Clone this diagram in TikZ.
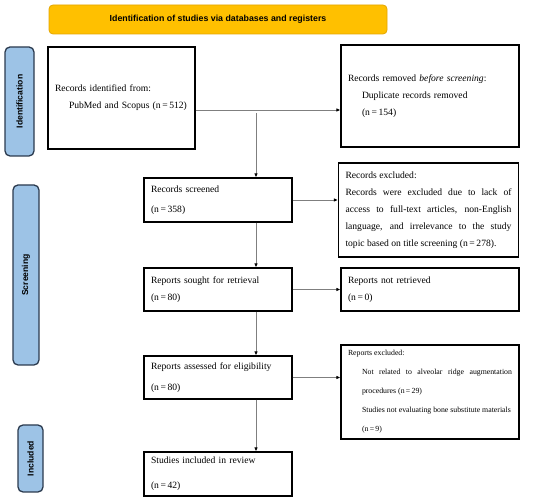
\documentclass[tikz,border=0pt]{standalone}
\usepackage{fontspec}
\setmainfont{Liberation Serif}
\setsansfont{Liberation Sans}
\usepackage{tikz}
\usetikzlibrary{arrows.meta}

\definecolor{bannerfill}{HTML}{FFC000}
\definecolor{bannerline}{HTML}{E3A500}
\definecolor{phasefill}{HTML}{9DC3E6}
\definecolor{phaseline}{HTML}{2B3A4E}
\definecolor{flowline}{HTML}{7F7F7F}

\tikzset{
    prismabox/.style={draw=black, line width=1.1pt, align=left, inner xsep=7pt,
        font=\fontsize{9.6}{17}\selectfont},
    phase/.style={draw=phaseline, line width=1.3pt, fill=phasefill, rounded corners=5pt,
        rotate=90, font=\sffamily\bfseries\fontsize{8.6}{9}\selectfont},
    flow/.style={draw=flowline, line width=0.9pt, -{Latex[length=4pt, width=3.5pt, color=black]}}
}

\begin{document}
\begin{tikzpicture}[x=1pt, y=-1pt]
    \useasboundingbox (0,0) rectangle (550,502);
    \node[draw=bannerline, line width=0.8pt, fill=bannerfill, rounded corners=4pt,
        minimum width=338pt, minimum height=29pt,
        font=\sffamily\bfseries\fontsize{8.8}{9}\selectfont] (banner) at (218,19.5)
        {Identification of studies via databases and registers};

    \node[phase, minimum width=109pt, minimum height=29pt] (phaseid) at (19.5,101.5) {Identification};
    \node[phase, minimum width=180pt, minimum height=26pt] (phasescr) at (26,275) {Screening};
    \node[phase, minimum width=67pt, minimum height=25pt] (phaseinc) at (30.5,458.5) {Included};

    % identification
    \node[prismabox, text width=133pt, minimum height=102pt] (recid) at (121.5,98)
        {Records identified from:\\ \hspace*{14pt}PubMed and Scopus (n\,=\,512)\\[4pt]};
    \node[prismabox, text width=164pt, minimum height=102pt] (removed) at (430,96)
        {Records removed \textit{before screening}:\\ \hspace*{14pt}Duplicate records removed\\ \hspace*{14pt}(n\,=\,154)\\[2pt]};

    % screening
    \node[prismabox, text width=134pt, minimum height=44pt] (screened) at (218,200)
        {Records screened\\[3pt] (n\,=\,358)};
    \node[prismabox, align=justify, text width=166pt, minimum height=94pt] (excluded) at (428.5,210)
        {Records excluded:\par Records were excluded due to lack of\linebreak access to full-text articles, non-English\linebreak language, and irrelevance to the study\linebreak topic based on title screening (n\,=\,278).};
    \node[prismabox, text width=134pt, minimum height=43pt] (sought) at (218,289.5)
        {Reports sought for retrieval\\ (n\,=\,80)};
    \node[prismabox, text width=164pt, minimum height=43pt] (notretr) at (430,289.5)
        {Reports not retrieved\\ (n\,=\,0)};
    \node[prismabox, text width=134pt, minimum height=43pt] (assessed) at (218,377.5)
        {Reports assessed for eligibility\\[4pt] (n\,=\,80)};
    \node[prismabox, align=justify, text width=164pt, minimum height=94pt,
        font=\fontsize{7.8}{19}\selectfont] (repexcl) at (430,392)
        {Reports excluded:\par
        \hspace*{14pt}Not related to alveolar ridge augmentation\linebreak
        \hspace*{14pt}procedures (n\,=\,29)\par
        \hspace*{14pt}Studies not evaluating bone substitute materials\par
        \hspace*{14pt}(n\,=\,9)};

    % included
    \node[prismabox, text width=134pt, minimum height=44pt] (included) at (218,474)
        {Studies included in review\\[8pt] (n\,=\,42)};

    \coordinate (split) at (256,110);
    \coordinate (drop) at (256,113);
    \draw[flow] (recid.east |- split) -- (removed.west |- split);
    \draw[flow] (drop) -- (drop |- screened.north);
    \draw[flow] (screened.east) -- (excluded.west |- screened.east);
    \draw[flow] (split |- screened.south) -- (split |- sought.north);
    \draw[flow] (sought.east) -- (notretr.west);
    \draw[flow] (split |- sought.south) -- (split |- assessed.north);
    \draw[flow] (assessed.east) -- (repexcl.west |- assessed.east);
    \draw[flow] (split |- assessed.south) -- (split |- included.north);
\end{tikzpicture}
\end{document}
